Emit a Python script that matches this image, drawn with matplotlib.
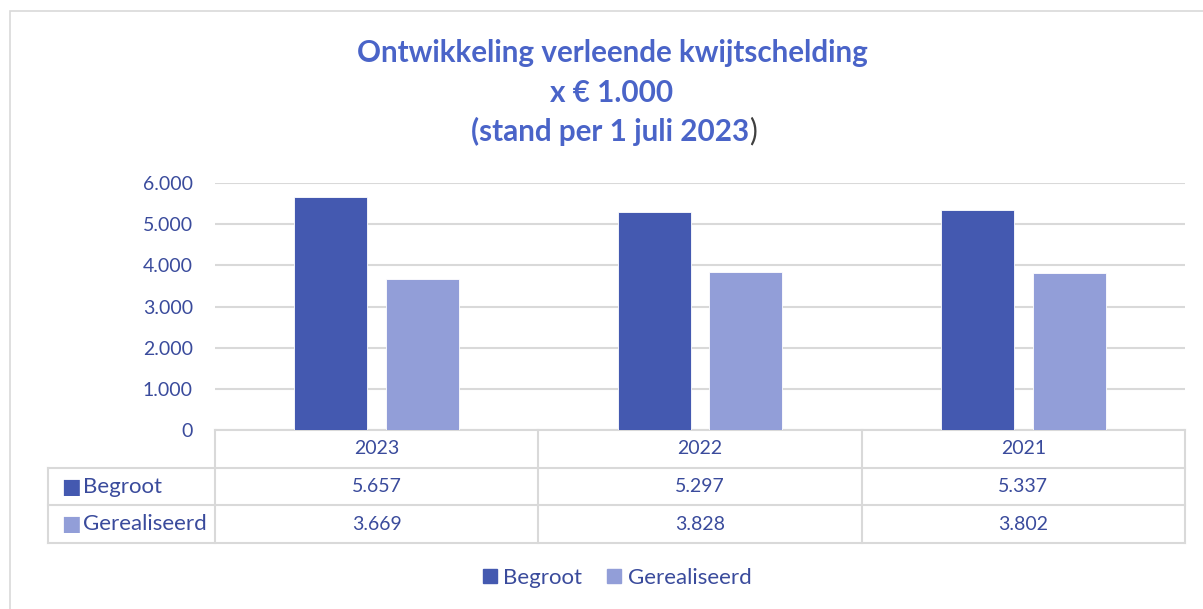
import matplotlib.pyplot as plt
from matplotlib.patches import Rectangle, Patch
from matplotlib.lines import Line2D
from matplotlib.ticker import FuncFormatter
import matplotlib.transforms as mtransforms

# data
years = ['2023', '2022', '2021']
begroot = [5657, 5297, 5337]
gerealiseerd = [3669, 3828, 3802]
series_names = ['Begroot', 'Gerealiseerd']
y_ticks = [0, 1000, 2000, 3000, 4000, 5000, 6000]

c_begroot = '#4459B0'
c_gereal = '#929ED8'
c_text = '#3A4B9C'
c_title = '#4A64C8'
c_line = '#D9D9D9'

plt.rcParams['font.family'] = ['Lato', 'DejaVu Sans']

W, H = 1203, 609
fig = plt.figure(figsize=(W / 100, H / 100), dpi=100)

# outer chart border (only left and top visible)
fig.patches.append(Rectangle((10 / W, -0.05), 1.1, 1 - 11 / H + 0.05,
                             transform=fig.transFigure, fill=False,
                             edgecolor=c_line, linewidth=1.2))

ax = fig.add_axes([215 / W, (H - 430) / H, 970 / W, (430 - 183) / H])
x = range(len(years))
bw = 0.226
off = 0.142
ax.bar([i - off for i in x], begroot, bw, color=c_begroot, edgecolor='white', linewidth=0.6, zorder=3)
ax.bar([i + off for i in x], gerealiseerd, bw, color=c_gereal, edgecolor='white', linewidth=0.6, zorder=3)
ax.set_xlim(-0.5, 2.5)
ax.set_ylim(0, 6000)
ax.set_yticks(y_ticks)
ax.yaxis.set_major_formatter(FuncFormatter(lambda v, p: f'{int(v):,}'.replace(',', '.')))
ax.set_xticks([])
ax.grid(axis='y', color=c_line, linewidth=1.5, zorder=0)
for s in ax.spines.values():
    s.set_visible(False)
ax.tick_params(axis='y', length=0, pad=16, labelsize=14, labelcolor=c_text)

# data table below the axes
tr = mtransforms.blended_transform_factory(ax.transData, ax.transAxes)
row_h = 37.7 / (430 - 183)
label_left = -0.5 - (215 - 48) / (970 / 3)
n = len(years)

def hline(y, x0, x1):
    ax.add_line(Line2D([x0, x1], [y, y], transform=tr, color=c_line, linewidth=1.5, clip_on=False))

def vline(xv, y0, y1):
    ax.add_line(Line2D([xv, xv], [y0, y1], transform=tr, color=c_line, linewidth=1.5, clip_on=False))

hline(0, -0.5, n - 0.5)
for k in range(1, 4):
    hline(-k * row_h, label_left, n - 0.5)
vline(label_left, -row_h, -3 * row_h)
for j in range(n + 1):
    vline(j - 0.5, 0, -3 * row_h)

for i, yr in enumerate(years):
    ax.text(i, -0.5 * row_h, yr, transform=tr, ha='center', va='center', fontsize=14, color=c_text)
    ax.text(i, -1.5 * row_h, f'{begroot[i]:,}'.replace(',', '.'), transform=tr,
            ha='center', va='center', fontsize=14, color=c_text)
    ax.text(i, -2.5 * row_h, f'{gerealiseerd[i]:,}'.replace(',', '.'), transform=tr,
            ha='center', va='center', fontsize=14, color=c_text)

for k, (name, col) in enumerate(zip(series_names, [c_begroot, c_gereal])):
    yk = -(1.5 + k) * row_h
    ax.text(label_left + 0.04, yk, '\u25A0', transform=tr, ha='left', va='center',
            fontsize=15, color=col, family='DejaVu Sans')
    ax.text(label_left + 0.107, yk, name, transform=tr, ha='left', va='center',
            fontsize=16, color=c_text)

# legend
handles = [Patch(color=c_begroot), Patch(color=c_gereal)]
leg = fig.legend(handles, series_names, loc='center', ncol=2, frameon=False,
                 bbox_to_anchor=(617 / W, 1 - 578 / H), handlelength=0.63, handleheight=0.63,
                 handletextpad=0.3, columnspacing=1.1, prop={'size': 16})
for t in leg.get_texts():
    t.set_color(c_text)

# title
title_lines = ['Ontwikkeling verleende kwijtschelding', 'x \u20ac 1.000']
for line, yp in zip(title_lines, [53, 93]):
    fig.text(612 / W, 1 - yp / H, line, ha='center', va='center', fontsize=21.3,
             fontweight='bold', color=c_title)
t3 = fig.text(610 / W, 1 - 131 / H, '(stand per 1 juli 2023', ha='center', va='center',
              fontsize=21.3, fontweight='bold', color=c_title)
ax.annotate(')', xy=(1, 0), xycoords=t3, ha='left', va='bottom', fontsize=21.3,
            color='#404040', annotation_clip=False)

fig.savefig('out.png', dpi=100)
